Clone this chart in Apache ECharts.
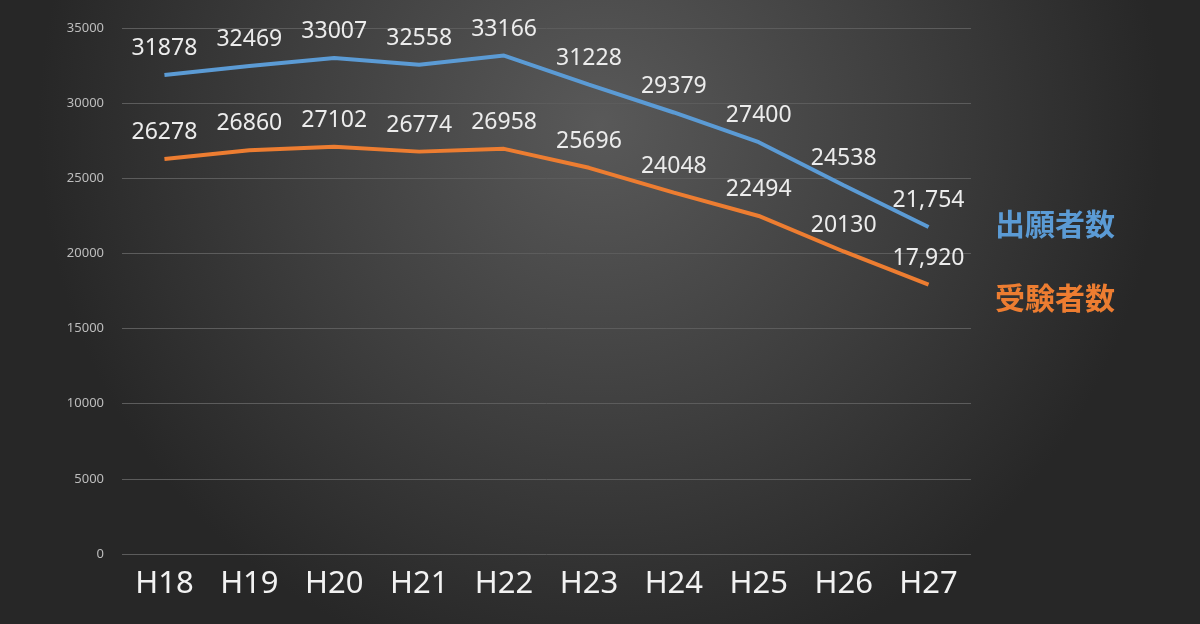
<!DOCTYPE html>
<html>
<head>
<meta charset="utf-8">
<script src="https://cdn.jsdelivr.net/npm/echarts@6/dist/echarts.min.js"></script>
<style>
  html, body { margin: 0; padding: 0; background: #2a2a2a; }
  #main { width: 1200px; height: 624px; }
</style>
</head>
<body>
<div id="main"></div>
<script>
var years = ["H18", "H19", "H20", "H21", "H22", "H23", "H24", "H25", "H26", "H27"];
var applicants = [31878, 32469, 33007, 32558, 33166, 31228, 29379, 27400, 24538, 21754];
var examinees = [26278, 26860, 27102, 26774, 26958, 25696, 24048, 22494, 20130, 17920];
var applicantsName = "出願者数";
var examineesName = "受験者数";

// last year's labels are written with a thousands comma in the original
function fmt(p) {
  if (p.dataIndex === years.length - 1) {
    return p.value.toLocaleString("en-US");
  }
  return String(p.value);
}

var myChart = echarts.init(document.getElementById("main"));
myChart.setOption({
  backgroundColor: {
    type: "radial", x: 0.5, y: 0.2, r: 0.9,
    colorStops: [
      { offset: 0, color: "#595959" },
      { offset: 0.55, color: "#3e3e3e" },
      { offset: 1, color: "#272727" }
    ]
  },
  animation: false,
  grid: { left: 122, right: 229, top: 28, bottom: 70 },
  xAxis: {
    type: "category",
    data: years,
    axisLine: { show: false },
    axisTick: { show: false },
    axisLabel: {
      color: "#f2f2f2", fontSize: 31, margin: 15,
      fontFamily: "Noto Sans"
    }
  },
  yAxis: {
    type: "value",
    min: 0, max: 35000, interval: 5000,
    axisLabel: {
      color: "#bdbdbd", fontSize: 13, margin: 18,
      fontFamily: "Noto Sans",
      formatter: function (v) { return String(v); }
    },
    splitLine: { lineStyle: { color: "#5c5c5c", width: 1 } }
  },
  series: [
    {
      name: applicantsName,
      type: "line",
      data: applicants,
      symbol: "circle",
      symbolSize: 0,
      lineStyle: { color: "#5b9bd5", width: 4 },
      itemStyle: { color: "#5b9bd5" },
      label: {
        show: true, position: "top", distance: 15,
        color: "#ececec", fontSize: 23, fontFamily: "Noto Sans",
        formatter: fmt
      }
    },
    {
      name: examineesName,
      type: "line",
      data: examinees,
      symbol: "circle",
      symbolSize: 0,
      lineStyle: { color: "#ed7d31", width: 4 },
      itemStyle: { color: "#ed7d31" },
      label: {
        show: true, position: "top", distance: 15,
        color: "#ececec", fontSize: 23, fontFamily: "Noto Sans",
        formatter: fmt
      }
    }
  ],
  graphic: [
    {
      type: "text", left: 995, top: 209,
      style: { text: applicantsName, fill: "#5b9bd5", font: "bold 30px 'Noto Sans CJK JP'" }
    },
    {
      type: "text", left: 995, top: 283,
      style: { text: examineesName, fill: "#ed7d31", font: "bold 30px 'Noto Sans CJK JP'" }
    }
  ]
});
</script>
</body>
</html>
